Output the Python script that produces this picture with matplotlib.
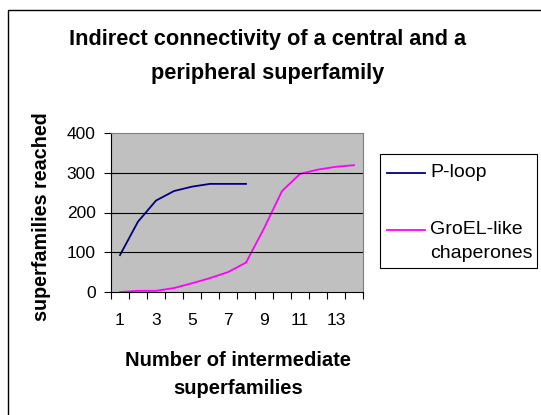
import matplotlib
matplotlib.use("Agg")
import matplotlib.pyplot as plt
from matplotlib.patches import Rectangle
from matplotlib.lines import Line2D

categories = list(range(1, 15))
ploop = [93, 177, 230, 254, 265, 272, 272, 272]
groel = [0, 3, 3, 10, 22, 35, 50, 74, 160, 254, 297, 308, 315, 319]
xtick_labels = ["1", "3", "5", "7", "9", "11", "13"]
series_names = ["P-loop", "GroEL-like\nchaperones"]
series_colors = ["#000080", "#FF00FF"]

plt.rcParams['font.family'] = ['Liberation Sans', 'DejaVu Sans']

W, H = 541, 415
fig = plt.figure(figsize=(W / 100, H / 100), dpi=100)

def fx(px):
    return px / W

def fy(py):
    return 1 - py / H

ax_l, ax_r, ax_t, ax_b = 111, 363, 133, 292
ax = fig.add_axes([fx(ax_l), fy(ax_b), (ax_r - ax_l) / W, (ax_b - ax_t) / H])
ax.set_facecolor('#C0C0C0')

ax.plot(categories[:len(ploop)], ploop, color=series_colors[0], lw=1.3)
ax.plot(categories, groel, color=series_colors[1], lw=1.3)

ax.set_xlim(0.5, 14.5)
ax.set_ylim(0, 400)
ax.set_yticks([0, 100, 200, 300, 400])
ax.set_yticklabels(["0", "100", "200", "300", "400"], fontsize=12.5)
for y in [100, 200, 300]:
    ax.axhline(y, color='black', lw=0.8)

ax.set_xticks([c + 0.5 for c in [0] + categories])
ax.set_xticklabels([])
ax.tick_params(axis='x', which='major', direction='out', length=5, width=0.8)
ax.set_xticks(categories[::2], minor=True)
ax.set_xticklabels(xtick_labels, minor=True, fontsize=12.5)
ax.tick_params(axis='x', which='minor', length=0, pad=15)
ax.tick_params(axis='y', direction='out', length=5, width=0.8, pad=6)

for s in ['top', 'right']:
    ax.spines[s].set_color('#808080')
    ax.spines[s].set_linewidth(0.8)
for s in ['left', 'bottom']:
    ax.spines[s].set_color('black')
    ax.spines[s].set_linewidth(0.8)

fig.text(fx(268), fy(40), 'Indirect connectivity of a central and a',
         ha='center', va='center', fontsize=15.7, fontweight='bold')
fig.text(fx(268), fy(73), 'peripheral superfamily',
         ha='center', va='center', fontsize=15.7, fontweight='bold')

fig.text(fx(42), fy(217), 'superfamilies reached', rotation=90,
         ha='center', va='center', fontsize=14.2, fontweight='bold')
fig.text(fx(238), fy(360), 'Number of intermediate',
         ha='center', va='center', fontsize=14.5, fontweight='bold')
fig.text(fx(238), fy(388), 'superfamilies',
         ha='center', va='center', fontsize=14.5, fontweight='bold')

# outer chart border
fig.patches.append(Rectangle((fx(8), fy(H + 20)), fx(W + 20 - 8), (H + 20 - 10) / H,
                             transform=fig.transFigure, fill=False,
                             edgecolor='black', lw=1.0))

# legend (drawn manually to match the reference layout)
fig.patches.append(Rectangle((fx(380), fy(268)), fx(537 - 380), (268 - 154) / H,
                             transform=fig.transFigure, fill=True, facecolor='white',
                             edgecolor='black', lw=0.8))
handle_y = [173, 230]
for name, color, hy in zip(series_names, series_colors, handle_y):
    fig.lines.append(Line2D([fx(387), fx(425)], [fy(hy), fy(hy)],
                            transform=fig.transFigure, color=color, lw=1.3))
    lines = name.split("\n")
    for i, ln in enumerate(lines):
        fig.text(fx(430), fy(hy - 1 + 24 * i), ln, ha='left', va='center',
                 fontsize=14)

fig.savefig('out.png', dpi=100)
